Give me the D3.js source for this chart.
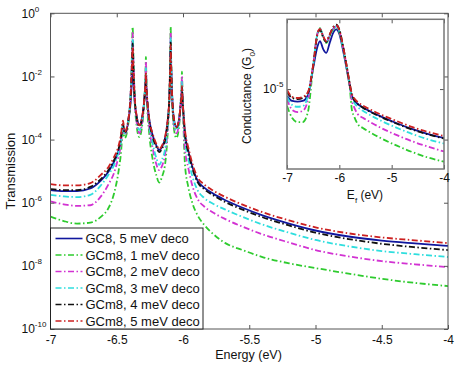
<!DOCTYPE html>
<html>
<head>
<meta charset="UTF-8">
<script src="https://d3js.org/d3.v7.min.js"></script>
<style>
  body { margin: 0; background: #fff; }
  svg { font-family: "Liberation Sans", Arial, sans-serif; }
  .tick line { stroke: #555; }
  .tick text { fill: #111; font-size: 12px; }
</style>
</head>
<body>
<svg id="chart" width="457" height="365"></svg>
<script>
// ---- main plot: energy grid (eV) and log10(transmission) per curve ----
const energy = [-7, -6.9, -6.8, -6.7, -6.62, -6.56, -6.52, -6.49, -6.47, -6.453,
  -6.44, -6.41, -6.395, -6.385, -6.38, -6.375, -6.365, -6.35, -6.33, -6.305,
  -6.29, -6.283, -6.28, -6.277, -6.27, -6.255, -6.23, -6.2, -6.18, -6.16,
  -6.13, -6.115, -6.102, -6.096, -6.093, -6.09, -6.082, -6.07, -6.05, -6.03,
  -6.017, -6.011, -6.008, -6.005, -5.998, -5.985, -5.96, -5.93, -5.89, -5.84,
  -5.77, -5.68, -5.55, -5.4, -5.2, -5.0, -4.75, -4.5, -4.25, -4.0];

const logT_gc8_5 = [-5.60, -5.63, -5.63, -5.55, -5.30, -5.00, -4.70, -4.40, -4.05, -3.55,
  -3.80, -3.35, -2.80, -2.00, -1.42, -2.00, -2.80, -3.25, -3.54, -3.20,
  -2.70, -2.40, -2.18, -2.40, -2.80, -3.35, -3.85, -4.20, -4.33, -4.25,
  -3.85, -3.40, -2.60, -1.60, -1.10, -1.60, -2.60, -3.30, -3.60, -3.35,
  -2.90, -2.70, -2.45, -2.70, -3.10, -3.80, -4.35, -4.85, -5.30, -5.52,
  -5.72, -5.92, -6.16, -6.40, -6.66, -6.88, -7.07, -7.20, -7.29, -7.37];
const logT_gcm8_1 = [-6.44, -6.58, -6.66, -6.63, -6.45, -6.15, -5.70, -5.10, -4.50, -3.75,
  -3.95, -3.40, -2.50, -1.25, -0.43, -1.25, -2.70, -3.55, -3.92, -3.45,
  -2.60, -1.90, -1.38, -1.90, -2.90, -3.80, -4.60, -5.15, -5.36, -5.20,
  -4.60, -3.75, -2.50, -1.25, -0.43, -1.25, -2.70, -3.60, -3.95, -3.60,
  -2.75, -2.30, -1.85, -2.30, -3.35, -4.80, -5.50, -6.00, -6.40, -6.70,
  -7.00, -7.28, -7.50, -7.72, -7.92, -8.07, -8.245, -8.41, -8.54, -8.64];
const logT_gcm8_2 = [-5.96, -6.05, -6.10, -6.08, -5.80, -5.40, -5.05, -4.60, -4.20, -3.60,
  -3.85, -3.30, -2.50, -1.35, -0.62, -1.35, -2.60, -3.45, -3.80, -3.35,
  -2.60, -2.00, -1.54, -2.00, -2.80, -3.60, -4.25, -4.80, -4.97, -4.85,
  -4.30, -3.60, -2.45, -1.35, -0.60, -1.35, -2.60, -3.50, -3.80, -3.50,
  -2.75, -2.40, -2.00, -2.40, -3.20, -4.30, -4.90, -5.45, -5.88, -6.12,
  -6.32, -6.52, -6.76, -7.00, -7.26, -7.50, -7.70, -7.85, -7.95, -8.04];
const logT_gcm8_3 = [-5.75, -5.80, -5.82, -5.75, -5.45, -5.10, -4.80, -4.45, -4.10, -3.55,
  -3.80, -3.30, -2.55, -1.50, -0.80, -1.50, -2.60, -3.35, -3.70, -3.30,
  -2.60, -2.10, -1.73, -2.10, -2.75, -3.50, -4.10, -4.60, -4.80, -4.65,
  -4.15, -3.50, -2.50, -1.50, -0.78, -1.50, -2.60, -3.40, -3.70, -3.45,
  -2.80, -2.50, -2.15, -2.50, -3.15, -4.00, -4.60, -5.15, -5.60, -5.85,
  -6.04, -6.22, -6.45, -6.69, -6.95, -7.18, -7.38, -7.53, -7.63, -7.72];
const logT_gcm8_4 = [-5.57, -5.60, -5.60, -5.50, -5.25, -4.95, -4.65, -4.35, -4.00, -3.50,
  -3.80, -3.30, -2.65, -1.70, -0.95, -1.70, -2.65, -3.30, -3.58, -3.25,
  -2.65, -2.30, -1.99, -2.30, -2.75, -3.40, -3.90, -4.25, -4.40, -4.30,
  -3.90, -3.40, -2.55, -1.60, -0.92, -1.60, -2.60, -3.35, -3.62, -3.40,
  -2.85, -2.60, -2.35, -2.60, -3.10, -3.85, -4.40, -4.90, -5.35, -5.57,
  -5.77, -5.98, -6.22, -6.46, -6.72, -6.95, -7.15, -7.30, -7.41, -7.50];
const logT_gcm8_5 = [-5.41, -5.45, -5.45, -5.38, -5.12, -4.85, -4.55, -4.25, -3.90, -3.40,
  -3.75, -3.30, -2.60, -1.60, -1.05, -1.60, -2.60, -3.25, -3.55, -3.20,
  -2.60, -2.20, -1.86, -2.20, -2.70, -3.35, -3.80, -4.15, -4.30, -4.20,
  -3.80, -3.35, -2.55, -1.60, -1.00, -1.60, -2.60, -3.30, -3.60, -3.35,
  -2.85, -2.60, -2.30, -2.60, -3.05, -3.70, -4.25, -4.75, -5.20, -5.42,
  -5.62, -5.82, -6.06, -6.30, -6.56, -6.78, -6.97, -7.10, -7.19, -7.28];

// ---- inset: Fermi energy grid (eV) and log10(conductance / G0) ----
const fermi = [-7, -6.9, -6.8, -6.7, -6.6, -6.5, -6.42, -6.37, -6.31, -6.25,
  -6.18, -6.11, -6.06, -6.0, -5.93, -5.86, -5.8, -5.76, -5.72, -5.65,
  -5.55, -5.4, -5.2, -4.9, -4.6, -4.3, -4.0];
const logG_gc8_5 = [-5.040, -5.068, -5.072, -5.068, -5.034, -4.880, -4.760, -4.726, -4.771, -4.794,
  -4.732, -4.675, -4.660, -4.686, -4.777, -4.886, -4.983, -5.040, -5.062, -5.085,
  -5.105, -5.129, -5.157, -5.195, -5.229, -5.257, -5.279];
const logG_gcm8_1 = [-5.097, -5.165, -5.188, -5.188, -5.131, -4.868, -4.686, -4.653, -4.703, -4.737,
  -4.697, -4.657, -4.646, -4.675, -4.766, -4.880, -4.994, -5.119, -5.154, -5.199,
  -5.222, -5.249, -5.281, -5.323, -5.360, -5.391, -5.414];
const logG_gcm8_2 = [-5.057, -5.119, -5.131, -5.125, -5.062, -4.863, -4.686, -4.655, -4.697, -4.732,
  -4.692, -4.652, -4.643, -4.669, -4.760, -4.874, -4.983, -5.068, -5.102, -5.142,
  -5.164, -5.190, -5.222, -5.263, -5.299, -5.329, -5.356];
const logG_gcm8_3 = [-5.045, -5.091, -5.101, -5.097, -5.040, -4.863, -4.686, -4.655, -4.697, -4.732,
  -4.692, -4.652, -4.643, -4.669, -4.760, -4.874, -4.977, -5.045, -5.074, -5.102,
  -5.124, -5.150, -5.181, -5.221, -5.257, -5.287, -5.311];
const logG_gcm8_4 = [-5.017, -5.051, -5.057, -5.051, -5.023, -4.868, -4.692, -4.663, -4.703, -4.732,
  -4.686, -4.643, -4.632, -4.660, -4.754, -4.868, -4.971, -5.034, -5.060, -5.085,
  -5.106, -5.131, -5.160, -5.198, -5.232, -5.259, -5.282];
const logG_gcm8_5 = [-5.005, -5.045, -5.051, -5.045, -5.017, -4.863, -4.686, -4.657, -4.697, -4.726,
  -4.686, -4.646, -4.635, -4.663, -4.754, -4.868, -4.971, -5.028, -5.051, -5.074,
  -5.094, -5.118, -5.146, -5.183, -5.217, -5.245, -5.268];

const labels = ["GC8, 5 meV deco", "GCm8, 1 meV deco", "GCm8, 2 meV deco",
  "GCm8, 3 meV deco", "GCm8, 4 meV deco", "GCm8, 5 meV deco"];
const energyTicks = [-7, -6.5, -6, -5.5, -5, -4.5, -4];
const transTicks = [1e-10, 1e-8, 1e-6, 1e-4, 1e-2, 1];
const fermiTicks = [-7, -6, -5, -4];
const condTicks = [1e-5];

// styles per curve (same order as labels)
const styles = [
  { color: "#10179e", dash: null },
  { color: "#2ecb2e", dash: "6,2.5,1.5,2.5" },
  { color: "#d232d2", dash: "6,2.5,1.5,2.5" },
  { color: "#2fdede", dash: "6,2.5,1.5,2.5" },
  { color: "#111111", dash: "6,2.5,1.5,2.5" },
  { color: "#cc2020", dash: "6,2.5,1.5,2.5" }
];
const mainSeries = [logT_gc8_5, logT_gcm8_1, logT_gcm8_2, logT_gcm8_3, logT_gcm8_4, logT_gcm8_5];
const insetSeries = [logG_gc8_5, logG_gcm8_1, logG_gcm8_2, logG_gcm8_3, logG_gcm8_4, logG_gcm8_5];

const svg = d3.select("#chart");
svg.append("rect").attr("width", 457).attr("height", 365).attr("fill", "#fff");

// ---------- main axes ----------
const m = { left: 50.5, right: 448, top: 13.3, bottom: 329 };
const x = d3.scaleLinear().domain([-7, -4]).range([m.left, m.right]);
const y = d3.scaleLog().domain([1e-10, 1]).range([m.bottom, m.top]);

svg.append("clipPath").attr("id", "clipMain")
  .append("rect").attr("x", m.left).attr("y", m.top)
  .attr("width", m.right - m.left).attr("height", m.bottom - m.top);

const mainLine = d3.line()
  .x(d => x(d[0]))
  .y(d => y(Math.pow(10, d[1])))
  .curve(d3.curveMonotoneX);

const gMain = svg.append("g").attr("clip-path", "url(#clipMain)");
mainSeries.forEach((s, i) => {
  gMain.append("path")
    .datum(energy.map((e, k) => [e, s[k]]))
    .attr("fill", "none")
    .attr("stroke", styles[i].color)
    .attr("stroke-width", 1.8)
    .attr("stroke-dasharray", styles[i].dash)
    .attr("d", mainLine);
});

// "10" with a superscript exponent, left edge at a fixed offset
function supLabel(sel, d, dx) {
  sel.text(null).attr("text-anchor", "start").attr("x", dx);
  sel.append("tspan").text("10");
  sel.append("tspan").attr("dy", -6).attr("font-size", 8).text(Math.round(Math.log10(d)));
}

svg.append("g").attr("transform", `translate(0,${m.bottom})`)
  .call(d3.axisBottom(x).tickValues(energyTicks).tickSize(-4).tickSizeOuter(0)
    .tickPadding(6).tickFormat(d => String(d)));
svg.append("g").attr("transform", `translate(0,${m.top})`)
  .call(d3.axisTop(x).tickValues(energyTicks).tickSize(-4).tickSizeOuter(0).tickFormat(""));
const axL = svg.append("g").attr("transform", `translate(${m.left},0)`)
  .call(d3.axisLeft(y).tickValues(transTicks).tickSize(-4).tickSizeOuter(0));
axL.selectAll(".tick text").each(function (d) { supLabel(d3.select(this), d, 21.5 - m.left); });
svg.append("g").attr("transform", `translate(${m.right},0)`)
  .call(d3.axisRight(y).tickValues(transTicks).tickSize(-4).tickSizeOuter(0).tickFormat(""));
svg.selectAll(".domain").remove();

svg.append("rect").attr("x", m.left).attr("y", m.top)
  .attr("width", m.right - m.left).attr("height", m.bottom - m.top)
  .attr("fill", "none").attr("stroke", "#555").attr("stroke-width", 1);

svg.append("text").attr("x", 248.5).attr("y", 358.5)
  .attr("text-anchor", "middle").attr("font-size", 12.5).attr("fill", "#111")
  .text("Energy (eV)");
svg.append("text").attr("transform", `translate(15,${(m.top + m.bottom) / 2}) rotate(-90)`)
  .attr("text-anchor", "middle").attr("font-size", 13).attr("fill", "#111")
  .text("Transmission");

// ---------- legend ----------
const lg = { x: 50.5, y: 228, w: 152.5, h: 101 };
const gLeg = svg.append("g");
gLeg.append("rect").attr("x", lg.x).attr("y", lg.y).attr("width", lg.w).attr("height", lg.h)
  .attr("fill", "#fff").attr("stroke", "#222").attr("stroke-width", 1);
labels.forEach((lab, i) => {
  const cy = lg.y + 10.5 + i * 16.5;
  gLeg.append("line").attr("x1", lg.x + 5).attr("x2", lg.x + 32)
    .attr("y1", cy).attr("y2", cy)
    .attr("stroke", styles[i].color).attr("stroke-width", 1.6)
    .attr("stroke-dasharray", styles[i].dash);
  gLeg.append("text").attr("x", lg.x + 35).attr("y", cy).attr("dy", "0.36em")
    .attr("font-size", 13).attr("fill", "#111").text(lab);
});

// ---------- inset ----------
const n = { left: 287, right: 444, top: 19.3, bottom: 169 };
const xi = d3.scaleLinear().domain([-7, -4]).range([n.left, n.right]);
const yi = d3.scaleLog().domain([3.5e-6, 2.5e-5]).range([n.bottom, n.top]);

const gIn = svg.append("g");
gIn.append("rect").attr("x", n.left).attr("y", n.top)
  .attr("width", n.right - n.left).attr("height", n.bottom - n.top).attr("fill", "#fff");
svg.append("clipPath").attr("id", "clipInset")
  .append("rect").attr("x", n.left).attr("y", n.top)
  .attr("width", n.right - n.left).attr("height", n.bottom - n.top);

const insetLine = d3.line()
  .x(d => xi(d[0]))
  .y(d => yi(Math.pow(10, d[1])))
  .curve(d3.curveMonotoneX);
const gInLines = gIn.append("g").attr("clip-path", "url(#clipInset)");
insetSeries.forEach((s, i) => {
  gInLines.append("path")
    .datum(fermi.map((e, k) => [e, s[k]]))
    .attr("fill", "none")
    .attr("stroke", styles[i].color)
    .attr("stroke-width", 1.8)
    .attr("stroke-dasharray", styles[i].dash)
    .attr("d", insetLine);
});

gIn.append("g").attr("transform", `translate(0,${n.bottom})`)
  .call(d3.axisBottom(xi).tickValues(fermiTicks).tickSize(-4).tickSizeOuter(0)
    .tickPadding(4).tickFormat(d => String(d)));
gIn.append("g").attr("transform", `translate(0,${n.top})`)
  .call(d3.axisTop(xi).tickValues(fermiTicks).tickSize(-4).tickSizeOuter(0).tickFormat(""));
const axIL = gIn.append("g").attr("transform", `translate(${n.left},0)`)
  .call(d3.axisLeft(yi).tickValues(condTicks).tickSize(-4).tickSizeOuter(0));
axIL.selectAll(".tick text").each(function (d) { supLabel(d3.select(this), d, 263 - n.left); });
gIn.append("g").attr("transform", `translate(${n.right},0)`)
  .call(d3.axisRight(yi).tickValues(condTicks).tickSize(-4).tickSizeOuter(0).tickFormat(""));
gIn.selectAll(".domain").remove();

gIn.append("rect").attr("x", n.left).attr("y", n.top)
  .attr("width", n.right - n.left).attr("height", n.bottom - n.top)
  .attr("fill", "none").attr("stroke", "#777").attr("stroke-width", 1.5);

const xl = gIn.append("text").attr("x", 365).attr("y", 199)
  .attr("text-anchor", "middle").attr("font-size", 12).attr("fill", "#111");
xl.append("tspan").text("E");
xl.append("tspan").attr("font-size", 8).attr("dy", 4).text("f");
xl.append("tspan").attr("dy", -4).text(" (eV)");

const yl = gIn.append("text")
  .attr("transform", `translate(251,96) rotate(-90)`)
  .attr("text-anchor", "middle").attr("font-size", 12).attr("fill", "#111");
yl.append("tspan").text("Conductance (G");
yl.append("tspan").attr("font-size", 8).attr("dy", 4).text("0");
yl.append("tspan").attr("dy", -4).text(")");
</script>
</body>
</html>
